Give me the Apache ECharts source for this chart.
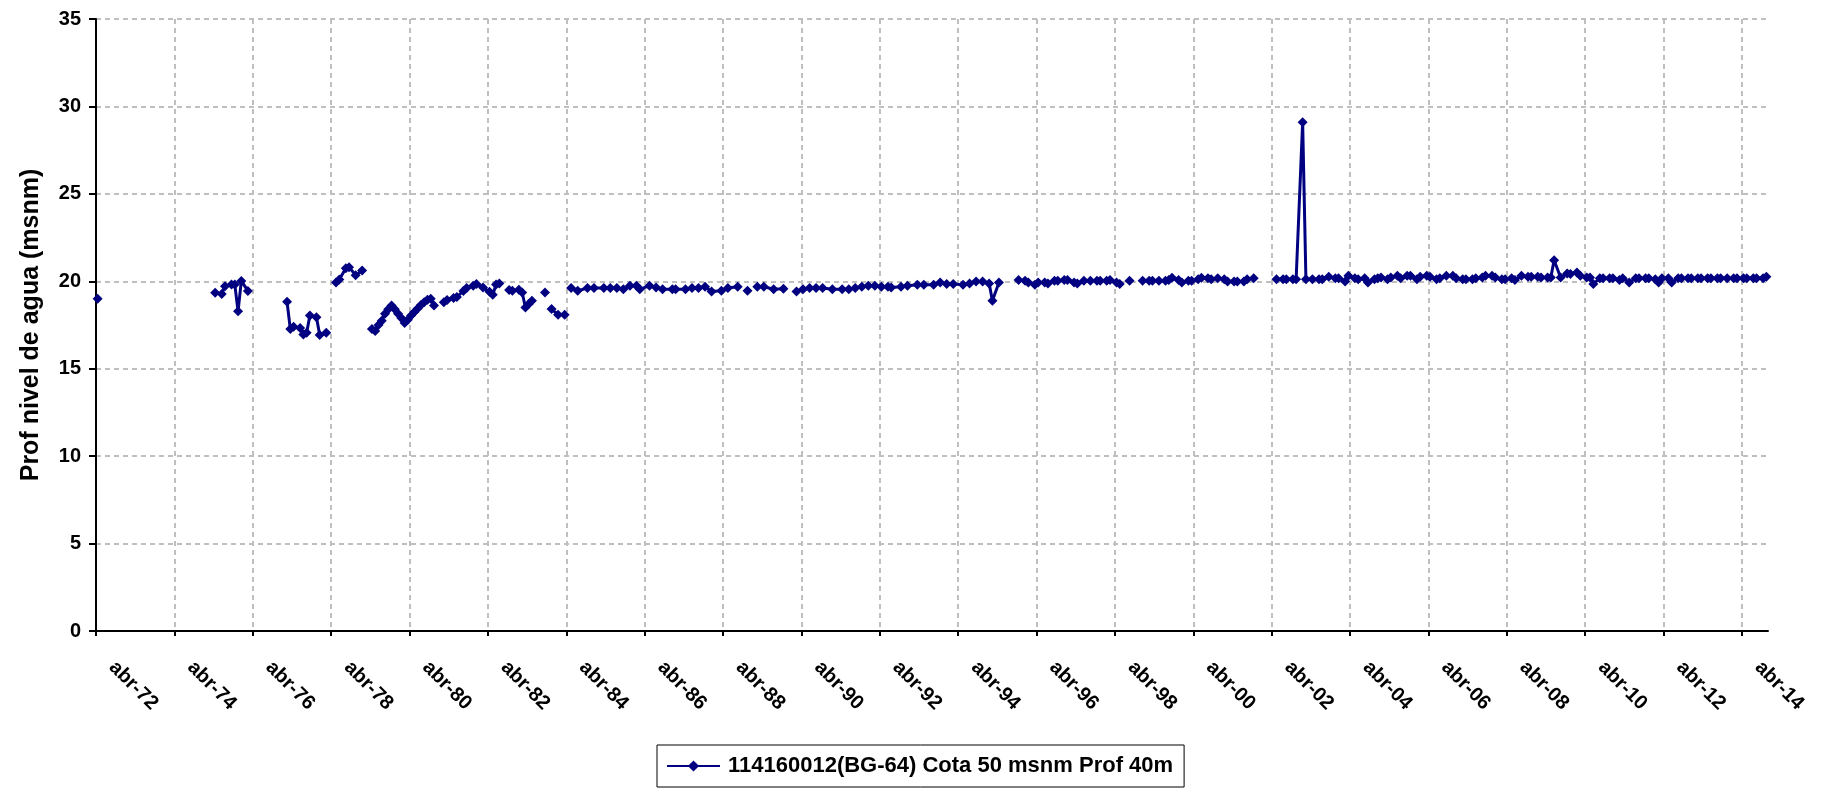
<!DOCTYPE html>
<html>
<head>
<meta charset="utf-8">
<script src="https://cdn.jsdelivr.net/npm/echarts@6/dist/echarts.min.js"></script>
<style>
html,body{margin:0;padding:0;background:#fff;}
#chart{width:1830px;height:789px;}
</style>
</head>
<body>
<div id="chart"></div>
<script>
// null = hueco en la serie (sin medición)
const fechas7284 = ['1972-04', null,
  '1975-04','1975-06','1975-07','1975-09','1975-10','1975-11','1975-12','1976-02', null,
  '1977-02','1977-03','1977-04','1977-06','1977-07','1977-08','1977-09','1977-11','1977-12','1978-02', null,
  '1978-05','1978-06','1978-08','1978-09','1978-11','1979-01', null,
  '1979-04','1979-05','1979-06','1979-07','1979-08','1979-09','1979-10','1979-11','1979-12','1980-01',
  '1980-02','1980-03','1980-04','1980-05','1980-06','1980-07','1980-08','1980-09','1980-10','1980-11', null,
  '1981-02','1981-03','1981-05','1981-06','1981-08','1981-09','1981-11','1981-12','1982-02','1982-04',
  '1982-05','1982-06','1982-07', null,
  '1982-10','1982-11','1983-01','1983-02','1983-03','1983-04','1983-05', null,
  '1983-09', null, '1983-11','1984-01', null, '1984-03', null];
const niveles7284 = [19.0, null,
  19.35,19.28,19.72,19.82,19.82,18.28,20.02,19.45, null,
  18.83,17.27,17.40,17.33,16.95,17.05,18.05,17.95,16.93,17.05, null,
  19.93,20.10,20.75,20.80,20.35,20.62, null,
  17.27,17.15,17.50,17.75,18.15,18.40,18.62,18.40,18.15,17.90,
  17.62,17.80,18.05,18.25,18.45,18.65,18.80,18.95,19.00,18.62, null,
  18.80,18.93,19.04,19.10,19.45,19.62,19.74,19.85,19.65,19.40,
  19.23,19.82,19.87, null,
  19.50,19.46,19.52,19.36,18.50,18.70,18.88, null,
  19.36, null, 18.41,18.09, null, 18.09, null];

const fechas8495 = ['1984-05','1984-07','1984-10','1984-12','1985-03','1985-05','1985-07','1985-09','1985-11',
  '1986-01','1986-02','1986-05','1986-07','1986-09','1986-12','1987-01','1987-04','1987-06','1987-08',
  '1987-10','1987-12','1988-03','1988-05','1988-08', null, '1988-11', null,
  '1989-02','1989-04','1989-07','1989-10', null,
  '1990-02','1990-04','1990-06','1990-08','1990-10','1991-01','1991-04','1991-06','1991-08','1991-10',
  '1991-12','1992-02','1992-04','1992-06','1992-07','1992-10','1992-12','1993-03','1993-05','1993-08',
  '1993-10','1993-12','1994-02','1994-05','1994-07','1994-09','1994-11','1995-01','1995-02','1995-04', null];
const niveles8495 = [19.61,19.46,19.61,19.61,19.61,19.61,19.61,19.55,19.74,
  19.74,19.55,19.74,19.65,19.55,19.55,19.55,19.55,19.61,19.61,
  19.69,19.42,19.46,19.61,19.69, null, 19.46, null,
  19.69,19.69,19.55,19.58, null,
  19.42,19.55,19.61,19.61,19.61,19.55,19.55,19.55,19.61,19.69,
  19.74,19.74,19.69,19.69,19.65,19.69,19.74,19.80,19.80,19.80,
  19.93,19.84,19.84,19.80,19.88,19.99,19.99,19.88,18.89,19.93, null];

const fechas9502 = ['1995-10','1995-12','1996-01','1996-03','1996-04','1996-06','1996-07','1996-09','1996-10',
  '1996-12','1997-01','1997-03','1997-04','1997-06','1997-08','1997-10','1997-11','1998-01','1998-02',
  '1998-04','1998-05', null, '1998-08', null,
  '1998-12','1999-02','1999-03','1999-05','1999-07','1999-08','1999-09','1999-11','1999-12','2000-02',
  '2000-03','2000-05','2000-06','2000-08','2000-09','2000-11','2001-01','2001-02','2001-04','2001-05',
  '2001-07','2001-08','2001-10', null];
const niveles9502 = [20.08,20.03,19.93,19.80,19.93,19.93,19.88,20.03,20.03,
  20.08,20.08,19.93,19.88,20.03,20.03,20.03,20.03,20.03,20.08,
  19.93,19.84, null, 20.03, null,
  20.03,20.03,20.03,20.03,20.03,20.08,20.20,20.08,19.93,20.03,
  20.03,20.12,20.20,20.18,20.12,20.18,20.12,19.99,19.99,19.99,
  19.99,20.12,20.18, null];

const fechas0214 = ['2002-05','2002-07','2002-08','2002-10','2002-11','2003-01','2003-02','2003-04','2003-06',
  '2003-07','2003-09','2003-11','2003-12','2004-02','2004-03','2004-05','2004-06','2004-08','2004-09',
  '2004-11','2004-12','2005-01','2005-03','2005-04','2005-06','2005-07','2005-09','2005-10','2005-12',
  '2006-01','2006-03','2006-04','2006-06','2006-07','2006-09','2006-11','2006-12','2007-02','2007-03',
  '2007-05','2007-06','2007-08','2007-09','2007-11','2007-12','2008-02','2008-03','2008-05','2008-06',
  '2008-08','2008-10','2008-11','2009-01','2009-02','2009-04','2009-05','2009-06','2009-08','2009-10',
  '2009-11','2010-01','2010-02','2010-04','2010-05','2010-06','2010-08','2010-09','2010-11','2010-12',
  '2011-02','2011-03','2011-05','2011-07','2011-08','2011-10','2011-11','2012-01','2012-02','2012-03',
  '2012-05','2012-06','2012-08','2012-09','2012-11','2012-12','2013-02','2013-03','2013-05','2013-06',
  '2013-08','2013-09','2013-11','2014-01','2014-02','2014-04','2014-05','2014-07','2014-08','2014-10','2014-11'];
const niveles0214 = [20.12,20.12,20.12,20.12,20.12,29.10,20.12,20.12,20.12,
  20.12,20.26,20.18,20.18,19.99,20.31,20.18,20.12,20.18,19.93,
  20.12,20.18,20.22,20.12,20.22,20.31,20.18,20.31,20.31,20.12,
  20.26,20.31,20.26,20.12,20.18,20.31,20.31,20.18,20.12,20.12,
  20.12,20.18,20.22,20.31,20.31,20.22,20.12,20.12,20.18,20.08,
  20.31,20.26,20.26,20.26,20.22,20.22,20.22,21.20,20.22,20.45,
  20.41,20.50,20.31,20.22,20.22,19.84,20.18,20.18,20.18,20.18,
  20.08,20.18,19.93,20.18,20.18,20.18,20.18,20.12,19.93,20.18,
  20.18,19.93,20.18,20.18,20.18,20.18,20.18,20.18,20.18,20.18,
  20.18,20.18,20.18,20.18,20.18,20.18,20.18,20.18,20.18,20.18,20.26];

const marcasX = [0,24,48,72,96,120,144,168,192,216,240,264,288,312,336,360,384,408,432,456,480,504];
const nombreSerie = '114160012(BG-64) Cota 50 msnm Prof 40m';
const tituloY = 'Prof nivel de agua (msnm)';

function mes(f) {
  const p = f.split('-').map(Number);
  return (p[0] - 1972) * 12 + (p[1] - 4) + 0.5;
}
function etiqueta(v) {
  const y = 1972 + Math.floor(v / 12);
  return 'abr-' + String(y % 100).padStart(2, '0');
}
const datos = [];
let ultimoX = 0;
[[fechas7284, niveles7284], [fechas8495, niveles8495], [fechas9502, niveles9502], [fechas0214, niveles0214]]
  .forEach(function (par) {
    const f = par[0], n = par[1];
    for (let i = 0; i < f.length; i++) {
      if (f[i] === null || n[i] === null) {
        datos.push([ultimoX + 0.25, '-']);
      } else {
        ultimoX = mes(f[i]);
        datos.push([ultimoX, n[i]]);
      }
    }
  });

const FONT = '"Liberation Sans", Arial, Helvetica, sans-serif';
const chart = echarts.init(document.getElementById('chart'), null, {renderer: 'canvas'});
chart.setOption({
  animation: false,
  backgroundColor: '#ffffff',
  grid: {left: 96, right: 62, top: 19, bottom: 158, containLabel: false},
  xAxis: {
    type: 'value',
    min: 0, max: 512,
    axisLine: {show: true, onZero: false, lineStyle: {color: '#000', width: 2}},
    axisTick: {show: true, length: 5, customValues: marcasX, lineStyle: {color: '#000', width: 2}},
    axisLabel: {
      customValues: marcasX,
      rotate: -45, margin: 17,
      padding: [0, 0, 0, 23],
      color: '#000', fontFamily: FONT, fontWeight: 'bold', fontSize: 20,
      formatter: etiqueta
    },
    splitLine: {show: true, lineStyle: {color: '#bfbfbf', width: 2, type: [5, 4]}}
  },
  yAxis: {
    type: 'value',
    min: 0, max: 35, interval: 5,
    name: tituloY,
    nameLocation: 'middle',
    nameGap: 52,
    nameRotate: 90,
    nameTextStyle: {color: '#000', fontFamily: FONT, fontWeight: 'bold', fontSize: 25},
    axisLine: {show: true, lineStyle: {color: '#000', width: 2}},
    axisTick: {show: true, length: 7, lineStyle: {color: '#000', width: 2}},
    axisLabel: {margin: 15, color: '#000', fontFamily: FONT, fontWeight: 'bold', fontSize: 20},
    splitLine: {show: true, lineStyle: {color: '#bfbfbf', width: 2, type: [5, 4]}}
  },
  legend: {
    show: true,
    top: 745,
    left: 657,
    data: [nombreSerie],
    borderColor: '#000',
    borderWidth: 1,
    padding: [10, 11, 10, 9],
    itemWidth: 53,
    itemHeight: 14,
    itemGap: 4,
    textStyle: {color: '#000', fontFamily: FONT, fontWeight: 'bold', fontSize: 22, padding: [0, 0, 0, 3]}
  },
  series: [{
    name: nombreSerie,
    type: 'line',
    data: datos,
    connectNulls: false,
    showSymbol: true,
    symbol: 'diamond',
    symbolSize: 10,
    clip: false,
    color: '#000080',
    lineStyle: {color: '#000080', width: 3},
    itemStyle: {color: '#000080'}
  }]
});
</script>
</body>
</html>
